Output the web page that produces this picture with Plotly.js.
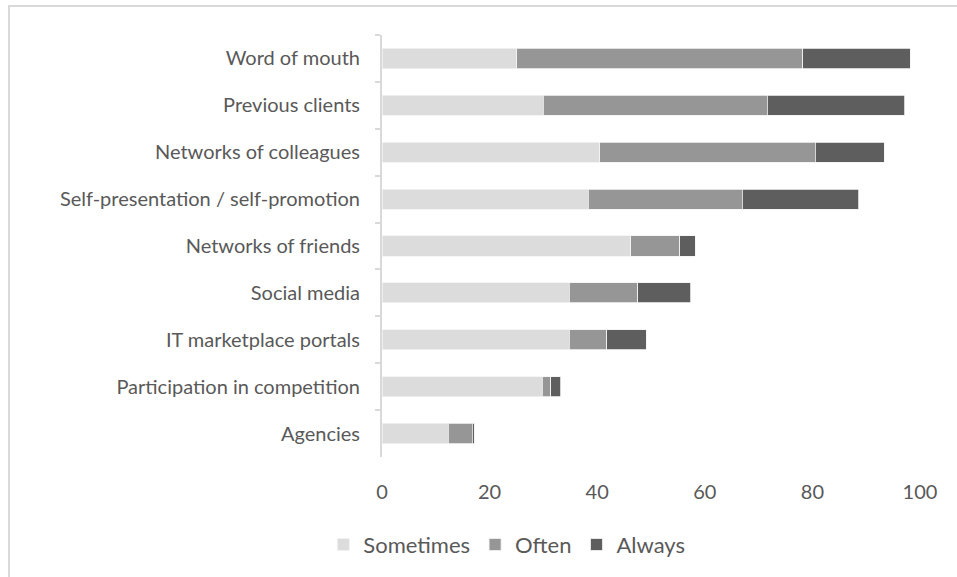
<!DOCTYPE html>
<html>
<head>
<meta charset="utf-8">
<script src="https://cdn.plot.ly/plotly-3.0.1.min.js"></script>
<style>
  html, body { margin: 0; padding: 0; background: #ffffff; }
  #wrap { position: relative; width: 957px; height: 577px; }
  #chart { position: absolute; left: 0; top: 0; width: 957px; height: 577px; }
  #frame { position: absolute; left: 8px; top: 5px; width: 949px; height: 572px;
           border-top: 2px solid #d9d9d9; border-left: 2px solid #d9d9d9; pointer-events: none; }
</style>
</head>
<body>
<div id="wrap">
  <div id="chart"></div>
  <div id="frame"></div>
</div>
<script>
const categories = [
  "Word of mouth",
  "Previous clients",
  "Networks of colleagues",
  "Self-presentation / self-promotion",
  "Networks of friends",
  "Social media",
  "IT marketplace portals",
  "Participation in competition",
  "Agencies"
];
const sometimes = [25, 30, 40.5, 38.3, 46.2, 34.8, 34.8, 29.8, 12.3];
const often     = [53.2, 41.6, 40, 28.7, 9.1, 12.7, 7.0, 1.6, 4.5];
const always    = [20, 25.6, 12.9, 21.6, 2.9, 9.9, 7.3, 1.8, 0.3];

const seriesNames = ["Sometimes", "Often", "Always"];
const seriesColors = ["#dcdcdc", "#969696", "#5e5e5e"];
const seriesValues = [sometimes, often, always];

const traces = seriesValues.map((vals, i) => ({
  type: "bar",
  orientation: "h",
  name: seriesNames[i],
  y: categories,
  x: vals,
  marker: { color: seriesColors[i], line: { color: "#f2f2f2", width: 0.8 } },
  hoverinfo: "x+y+name"
}));

const layout = {
  width: 957,
  height: 577,
  barmode: "stack",
  bargap: 0.57,
  paper_bgcolor: "#ffffff",
  plot_bgcolor: "#ffffff",
  margin: { l: 382, r: 37, t: 35, b: 119 },
  font: { family: "Lato, 'Open Sans', sans-serif", color: "#595959", size: 20 },
  showlegend: true,
  legend: {
    orientation: "h",
    x: 0.232, xanchor: "center",
    y: -0.205, yanchor: "middle",
    font: { size: 22, color: "#595959" },
    traceorder: "normal",
    itemwidth: 30
  },
  xaxis: {
    range: [0, 100],
    tickvals: [0, 20, 40, 60, 80, 100],
    ticktext: ["0", "20", "40", "60", "80", "100"],
    showgrid: false,
    zeroline: false,
    showline: false,
    ticks: "",
    ticklabelstandoff: 21,
    tickfont: { size: 20, color: "#595959" },
    fixedrange: true
  },
  yaxis: {
    type: "category",
    categoryorder: "array",
    categoryarray: categories,
    autorange: "reversed",
    showgrid: false,
    zeroline: false,
    showline: true,
    linecolor: "#d9d9d9",
    linewidth: 2,
    ticks: "outside",
    tickson: "boundaries",
    ticklen: 5,
    tickwidth: 2,
    tickcolor: "#d9d9d9",
    ticklabelstandoff: 16,
    tickfont: { size: 20, color: "#595959" },
    fixedrange: true
  }
};

Plotly.newPlot("chart", traces, layout, { displayModeBar: false, staticPlot: true });
</script>
</body>
</html>
